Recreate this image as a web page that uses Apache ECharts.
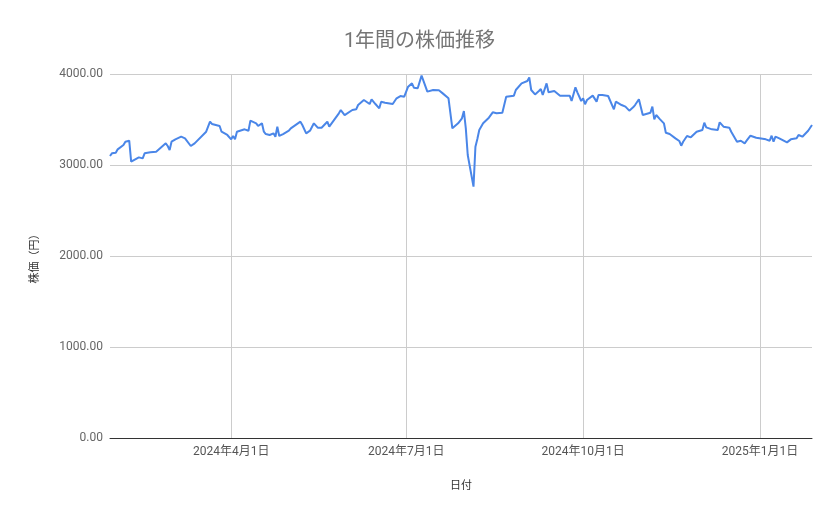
<!DOCTYPE html>
<html>
<head>
<meta charset="utf-8">
<script src="https://cdn.jsdelivr.net/npm/echarts@6/dist/echarts.min.js"></script>
<style>
html,body{margin:0;padding:0;background:#fff;}
#chart{width:839px;height:519px;}
</style>
</head>
<body>
<div id="chart"></div>
<script>
const dates = [
'2024-01-29','2024-01-30','2024-01-31','2024-02-01','2024-02-02','2024-02-05','2024-02-06','2024-02-07','2024-02-08','2024-02-09',
'2024-02-10','2024-02-13','2024-02-15','2024-02-16','2024-02-19','2024-02-20','2024-02-22','2024-02-27','2024-02-28','2024-02-29',
'2024-03-01','2024-03-03','2024-03-06','2024-03-08','2024-03-11','2024-03-13','2024-03-14','2024-03-19','2024-03-21','2024-03-22',
'2024-03-26','2024-03-27','2024-03-28','2024-03-30','2024-04-01','2024-04-02','2024-04-03','2024-04-04','2024-04-05','2024-04-08',
'2024-04-10','2024-04-11','2024-04-14','2024-04-15','2024-04-17','2024-04-18','2024-04-19','2024-04-21','2024-04-23','2024-04-24',
'2024-04-25','2024-04-26','2024-04-28','2024-05-01','2024-05-02','2024-05-07','2024-05-08','2024-05-10','2024-05-12','2024-05-14',
'2024-05-16','2024-05-18','2024-05-21','2024-05-22','2024-05-23','2024-05-27','2024-05-28','2024-05-30','2024-05-31','2024-06-03',
'2024-06-05','2024-06-06','2024-06-09','2024-06-10','2024-06-12','2024-06-13','2024-06-15','2024-06-17','2024-06-18','2024-06-20',
'2024-06-24','2024-06-26','2024-06-27','2024-06-28','2024-06-30','2024-07-01','2024-07-02','2024-07-04','2024-07-05','2024-07-07',
'2024-07-08','2024-07-09','2024-07-12','2024-07-15','2024-07-18','2024-07-20','2024-07-23','2024-07-25','2024-07-28','2024-07-30',
'2024-07-31','2024-08-01','2024-08-02','2024-08-05','2024-08-06','2024-08-07','2024-08-08','2024-08-10','2024-08-13','2024-08-14',
'2024-08-15','2024-08-17','2024-08-18','2024-08-20','2024-08-22','2024-08-23','2024-08-26','2024-08-27','2024-08-30','2024-09-02',
'2024-09-03','2024-09-04','2024-09-05','2024-09-06','2024-09-08','2024-09-09','2024-09-10','2024-09-12','2024-09-13','2024-09-16',
'2024-09-19','2024-09-24','2024-09-25','2024-09-27','2024-09-28','2024-09-30','2024-10-01','2024-10-02','2024-10-03','2024-10-06',
'2024-10-07','2024-10-08','2024-10-09','2024-10-11','2024-10-14','2024-10-17','2024-10-18','2024-10-21','2024-10-23','2024-10-25',
'2024-10-27','2024-10-28','2024-10-30','2024-11-01','2024-11-05','2024-11-06','2024-11-07','2024-11-08','2024-11-10','2024-11-12',
'2024-11-13','2024-11-15','2024-11-18','2024-11-20','2024-11-21','2024-11-22','2024-11-24','2024-11-26','2024-11-29','2024-12-02',
'2024-12-03','2024-12-04','2024-12-07','2024-12-10','2024-12-11','2024-12-13','2024-12-16','2024-12-17','2024-12-20','2024-12-22',
'2024-12-24','2024-12-25','2024-12-27','2024-12-30','2025-01-04','2025-01-06','2025-01-07','2025-01-08','2025-01-09','2025-01-11',
'2025-01-15','2025-01-17','2025-01-20','2025-01-21','2025-01-23','2025-01-26','2025-01-28'
];
const prices = [
3099,3128,3110,3135,3172,3220,3256,3275,3267,3037,
3055,3084,3073,3128,3139,3121,3146,3238,3209,3165,
3256,3282,3311,3293,3209,3238,3238,3366,3476,3451,
3429,3366,3377,3330,3282,3319,3282,3366,3348,3392,
3377,3487,3458,3429,3458,3366,3340,3330,3348,3311,
3421,3319,3340,3377,3403,3476,3440,3348,3377,3458,
3410,3410,3476,3421,3429,3568,3604,3549,3568,3604,
3612,3659,3714,3733,3670,3722,3670,3623,3696,3685,
3670,3733,3740,3758,3751,3751,3861,3897,3850,3843,
3850,3982,3806,3824,3821,3787,3733,3403,3458,3513,
3593,3403,3110,2762,3201,3286,3385,3458,3520,3531,
3579,3568,3557,3575,3751,3762,3762,3824,3897,3923,
3963,3824,3806,3776,3813,3835,3769,3897,3799,3813,
3762,3762,3703,3853,3799,3703,3733,3667,3714,3762,
3776,3696,3769,3769,3758,3612,3696,3659,3641,3597,
3634,3659,3722,3549,3575,3641,3502,3549,3502,3458,
3355,3340,3293,3264,3212,3256,3319,3304,3366,3385,
3465,3414,3392,3385,3469,3421,3410,3366,3256,3267,
3238,3267,3322,3300,3282,3267,3322,3256,3311,3293,
3249,3282,3293,3330,3311,3377,3440
];
const xTicks = ['2024-04-01','2024-07-01','2024-10-01','2025-01-01'];
const yTicks = [0,1000,2000,3000,4000];

const ts = function(s){return Date.parse(s + 'T00:00:00Z');};
const FONT = 'Roboto, "Noto Sans CJK JP", sans-serif';
const xTickTs = xTicks.map(ts);
const chart = echarts.init(document.getElementById('chart'));
chart.setOption({
  animation:false,
  backgroundColor:'#fff',
  title:{
    text:'1年間の株価推移',
    left:'center',
    top:27,
    textStyle:{fontFamily:FONT,fontSize:20,fontWeight:'normal',color:'#757575'}
  },
  grid:{left:110,right:27,top:74,bottom:81,containLabel:false},
  xAxis:{
    type:'value',
    min:ts(dates[0]),
    max:ts(dates[dates.length-1]),
    name:'日付',
    nameLocation:'middle',
    nameGap:43,
    nameTextStyle:{fontFamily:FONT,fontSize:11,color:'#333'},
    axisLine:{show:true,onZero:false,lineStyle:{color:'#333',width:1}},
    axisTick:{show:false,customValues:xTickTs},
    axisLabel:{
      customValues:xTickTs,
      fontFamily:FONT,fontSize:12,color:'#555',margin:8,
      formatter:function(v){const d=new Date(v);return d.getUTCFullYear()+'年'+(d.getUTCMonth()+1)+'月'+d.getUTCDate()+'日';}
    },
    splitLine:{show:true,lineStyle:{color:'#cccccc',width:1}}
  },
  yAxis:{
    type:'value',
    min:yTicks[0],
    max:yTicks[yTicks.length-1],
    interval:1000,
    name:'株価（円）',
    nameLocation:'middle',
    nameGap:69,
    nameRotate:90,
    nameTextStyle:{fontFamily:FONT,fontSize:11,color:'#333'},
    axisLine:{show:false},
    axisTick:{show:false},
    axisLabel:{fontFamily:FONT,fontSize:12,color:'#666',margin:7,formatter:function(v){return v.toFixed(2);}},
    splitLine:{show:true,lineStyle:{color:'#cccccc',width:1}}
  },
  series:[{
    type:'line',
    data:dates.map(function(d,i){return [ts(d),prices[i]];}),
    showSymbol:false,
    symbol:'none',
    lineStyle:{color:'#4a86e8',width:2},
    itemStyle:{color:'#4a86e8'}
  }]
});
</script>
</body>
</html>
